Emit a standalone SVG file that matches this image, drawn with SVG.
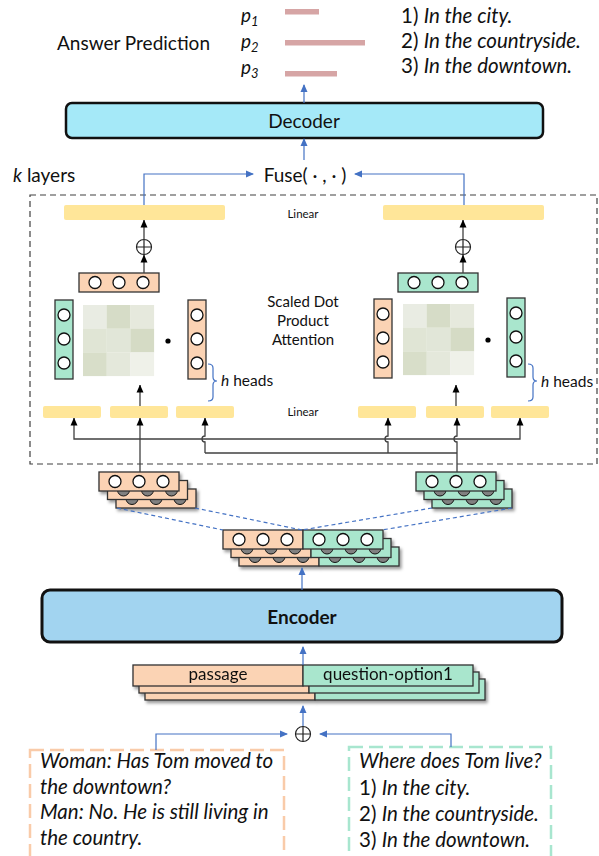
<svg xmlns="http://www.w3.org/2000/svg" width="599" height="856" viewBox="0 0 599 856">
<defs>
<style>
text{font-family:Lato,"Open Sans","DejaVu Sans",sans-serif;fill:#111}
.t19{font-size:19px}
.t20{font-size:20.5px}
.it{font-style:italic}
.or{fill:#fbd3b4;stroke:#333;stroke-width:1.3}
.gr{fill:#a9e6cd;stroke:#333;stroke-width:1.3}
.ye{fill:#ffe699}
.wc{fill:#fff;stroke:#111;stroke-width:1.3}
.gc{fill:#808080;stroke:#111;stroke-width:1}
.bl{fill:none;stroke:#4472c4;stroke-width:1.2}
.bk{fill:none;stroke:#404040;stroke-width:1.3}
.bd{fill:none;stroke:#4472c4;stroke-width:1.2;stroke-dasharray:4 3}
.op{fill:none;stroke:#222;stroke-width:1.2}
</style>
<marker id="ab" markerWidth="8" markerHeight="8" refX="7" refY="4" orient="auto" markerUnits="userSpaceOnUse"><path d="M0,0.5 L8,4 L0,7.5z" fill="#4472c4"/></marker>
<marker id="ak" markerWidth="8" markerHeight="8" refX="7.5" refY="4" orient="auto" markerUnits="userSpaceOnUse"><path d="M0,0.5 L8,4 L0,7.5z" fill="#000"/></marker>
<filter id="sh" x="-10%" y="-10%" width="130%" height="160%"><feDropShadow dx="2" dy="2.5" stdDeviation="1.5" flood-color="#000" flood-opacity="0.4"/></filter>
<g id="rowOw"><rect class="or" width="80" height="19"/><circle class="wc" cx="16" cy="9.5" r="6"/><circle class="wc" cx="40" cy="9.5" r="6"/><circle class="wc" cx="64" cy="9.5" r="6"/></g>
<g id="rowOg"><rect class="or" width="80" height="19"/><circle class="gc" cx="16" cy="9.5" r="6"/><circle class="gc" cx="40" cy="9.5" r="6"/><circle class="gc" cx="64" cy="9.5" r="6"/></g>
<g id="rowGw"><rect class="gr" width="80" height="19"/><circle class="wc" cx="16" cy="9.5" r="6"/><circle class="wc" cx="40" cy="9.5" r="6"/><circle class="wc" cx="64" cy="9.5" r="6"/></g>
<g id="rowGg"><rect class="gr" width="80" height="19"/><circle class="gc" cx="16" cy="9.5" r="6"/><circle class="gc" cx="40" cy="9.5" r="6"/><circle class="gc" cx="64" cy="9.5" r="6"/></g>
<g id="vO"><rect class="or" width="18" height="79"/><circle class="wc" cx="9" cy="15" r="6"/><circle class="wc" cx="9" cy="39" r="6"/><circle class="wc" cx="9" cy="63" r="6"/></g>
<g id="vG"><rect class="gr" width="18" height="79"/><circle class="wc" cx="9" cy="15" r="6"/><circle class="wc" cx="9" cy="39" r="6"/><circle class="wc" cx="9" cy="63" r="6"/></g>
<g id="mat">
<rect x="0" y="0" width="23.8" height="23.8" fill="#e9ece3"/><rect x="23.7" y="0" width="23.8" height="23.8" fill="#d6dcc7"/><rect x="47.4" y="0" width="23.7" height="23.8" fill="#e6e9dd"/>
<rect x="0" y="23.7" width="23.8" height="23.8" fill="#e0e5d5"/><rect x="23.7" y="23.7" width="23.8" height="23.8" fill="#e1e6d8"/><rect x="47.4" y="23.7" width="23.7" height="23.8" fill="#d5dbc5"/>
<rect x="0" y="47.4" width="23.8" height="23.7" fill="#d8dec9"/><rect x="23.7" y="47.4" width="23.8" height="23.7" fill="#e4e8db"/><rect x="47.4" y="47.4" width="23.7" height="23.7" fill="#eff1e9"/>
</g>
<g id="oplus"><circle class="op" r="7.5"/><path class="op" d="M-7.5,0H7.5M0,-7.5V7.5"/></g>
</defs>
<rect width="599" height="856" fill="#fff"/>

<g id="answer-prediction">
<text class="t19" x="57" y="50">Answer Prediction</text>
<text class="t19 it" x="241" y="22">p<tspan font-size="13" dy="4">1</tspan></text>
<text class="t19 it" x="241" y="48">p<tspan font-size="13" dy="4">2</tspan></text>
<text class="t19 it" x="241" y="74">p<tspan font-size="13" dy="4">3</tspan></text>
<rect x="285" y="9" width="34" height="5.5" fill="#d6a5a5"/>
<rect x="285" y="40" width="80" height="5.5" fill="#d6a5a5"/>
<rect x="285" y="71" width="52" height="5.5" fill="#d6a5a5"/>
<text class="t20" x="401" y="23">1) <tspan class="it">In the city.</tspan></text>
<text class="t20" x="401" y="48">2) <tspan class="it">In the countryside.</tspan></text>
<text class="t20" x="401" y="73">3) <tspan class="it">In the downtown.</tspan></text>
</g>

<g id="decoder">
<rect x="66" y="103" width="477" height="35" rx="6" fill="#a5e9f8" stroke="#111" stroke-width="2.5"/>
<text class="t19" x="304" y="128" text-anchor="middle">Decoder</text>
</g>

<g id="fuse"><text class="t19" x="305" y="182" text-anchor="middle">Fuse( · , · )</text></g>

<g id="k-layers">
<text class="t19" x="13" y="182"><tspan class="it">k</tspan> layers</text>
<rect x="30" y="195" width="567" height="269" fill="none" stroke="#404040" stroke-width="1.2" stroke-dasharray="6 4"/>
<text x="303" y="218" text-anchor="middle" font-size="11.5">Linear</text>
<text x="303" y="416" text-anchor="middle" font-size="11.5">Linear</text>
<text x="303" y="307" text-anchor="middle" font-size="15">Scaled Dot</text>
<text x="303" y="326" text-anchor="middle" font-size="15">Product</text>
<text x="303" y="345" text-anchor="middle" font-size="15">Attention</text>
</g>

<g id="left-attention">
<rect class="ye" x="64" y="205" width="161" height="15" rx="2"/>
<use href="#oplus" x="144" y="247"/>
<use href="#rowOw" x="79" y="273"/>
<use href="#vG" x="55" y="300"/>
<use href="#mat" x="83" y="305"/>
<circle cx="168" cy="341" r="2.6" fill="#000"/>
<use href="#vO" x="188" y="300"/>
<path d="M208,364 q5,0 5,4 V377 q0,4 4,4 q-4,0 -4,4 V397 q0,4 -5,4" fill="none" stroke="#4472c4" stroke-width="1.2"/>
<text x="221" y="386" font-size="15.5"><tspan class="it">h</tspan> heads</text>
<rect class="ye" x="43" y="406" width="58" height="12" rx="2"/>
<rect class="ye" x="110" y="406" width="58" height="12" rx="2"/>
<rect class="ye" x="176" y="406" width="58" height="12" rx="2"/>
</g>

<g id="right-attention">
<rect class="ye" x="383" y="205" width="161" height="15" rx="2"/>
<use href="#oplus" x="463" y="247"/>
<use href="#rowGw" x="398" y="273"/>
<use href="#vO" x="374" y="299"/>
<use href="#mat" x="403" y="304"/>
<circle cx="488" cy="340" r="2.6" fill="#000"/>
<use href="#vG" x="507" y="298"/>
<path d="M528,364 q5,0 5,4 V377 q0,4 4,4 q-4,0 -4,4 V397 q0,4 -5,4" fill="none" stroke="#4472c4" stroke-width="1.2"/>
<text x="541" y="387" font-size="15.5"><tspan class="it">h</tspan> heads</text>
<rect class="ye" x="358" y="406" width="58" height="12" rx="2"/>
<rect class="ye" x="426" y="406" width="58" height="12" rx="2"/>
<rect class="ye" x="491" y="406" width="58" height="12" rx="2"/>
</g>

<g id="left-stack" filter="url(#sh)">
<use href="#rowOg" x="116" y="489"/>
<use href="#rowOg" x="107.5" y="480.5"/>
<use href="#rowOw" x="99" y="472"/>
</g>
<g id="right-stack" filter="url(#sh)">
<use href="#rowGg" x="432" y="489"/>
<use href="#rowGg" x="424" y="480.5"/>
<use href="#rowGw" x="416" y="472"/>
</g>
<g id="center-stack" filter="url(#sh)">
<use href="#rowOg" x="239" y="547"/><use href="#rowGg" x="319" y="547"/>
<use href="#rowOg" x="231" y="538.5"/><use href="#rowGg" x="311" y="538.5"/>
<use href="#rowOw" x="223" y="530"/><use href="#rowGw" x="303" y="530"/>
</g>

<g id="encoder">
<rect x="42" y="590" width="520" height="52" rx="8" fill="#a2d4f0" stroke="#111" stroke-width="3"/>
<text x="302" y="624" text-anchor="middle" font-size="19" font-weight="bold">Encoder</text>
</g>

<g id="input-stack" filter="url(#sh)">
<rect class="or" x="145" y="679" width="170" height="21"/><rect class="gr" x="315" y="679" width="170" height="21"/>
<rect class="or" x="139" y="672" width="170" height="21"/><rect class="gr" x="309" y="672" width="170" height="21"/>
<rect class="or" x="133" y="665" width="170" height="21"/><rect class="gr" x="303" y="665" width="170" height="21"/>
<text x="218" y="680" text-anchor="middle" font-size="17">passage</text>
<text x="388" y="680" text-anchor="middle" font-size="17">question-option1</text>
</g>

<use id="input-oplus" href="#oplus" x="303" y="734"/>

<g id="passage-box">
<rect x="30" y="750" width="254" height="120" fill="none" stroke="#f9cba9" stroke-width="2.5" stroke-dasharray="14 6"/>
<text class="t20 it" x="40" y="768">Woman: Has Tom moved to</text>
<text class="t20 it" x="40" y="794">the downtown?</text>
<text class="t20 it" x="40" y="819">Man: No. He is still living in</text>
<text class="t20 it" x="40" y="845">the country.</text>
</g>

<g id="question-box">
<rect x="349" y="747" width="202" height="120" fill="none" stroke="#a8e6cf" stroke-width="2.5" stroke-dasharray="14 6"/>
<text class="t20 it" x="359" y="768">Where does Tom live?</text>
<text class="t20" x="359" y="795">1) <tspan class="it">In the city.</tspan></text>
<text class="t20" x="359" y="821">2) <tspan class="it">In the countryside.</tspan></text>
<text class="t20" x="359" y="847">3) <tspan class="it">In the downtown.</tspan></text>
</g>

<g id="connectors">
<path class="bl" d="M304,103 V85" marker-end="url(#ab)"/>
<path class="bl" d="M304,160 V139" marker-end="url(#ab)"/>
<path class="bl" d="M144,205 V174 H253" marker-end="url(#ab)"/>
<path class="bl" d="M464,205 V174 H355" marker-end="url(#ab)"/>
<path class="bk" d="M144,273 V255" marker-end="url(#ak)"/>
<path class="bk" d="M144,239.5 V220" marker-end="url(#ak)"/>
<path class="bk" d="M463,273 V255" marker-end="url(#ak)"/>
<path class="bk" d="M463,239.5 V220" marker-end="url(#ak)"/>
<path class="bk" d="M140,406 V385" stroke-width="1" marker-end="url(#ak)"/>
<path class="bk" d="M456,406 V385" stroke-width="1" marker-end="url(#ak)"/>
<path class="bk" d="M140,472 V418" marker-end="url(#ak)"/>
<path class="bk" d="M140,439 H74 V418" marker-end="url(#ak)"/>
<path class="bk" d="M140,439 H520 V418" marker-end="url(#ak)"/>
<path class="bk" d="M205,453 H457"/>
<path class="bk" d="M205,453 V442 a3,3 0 0 1 0,-6 V418" marker-end="url(#ak)"/>
<path class="bk" d="M388,453 V442 a3,3 0 0 1 0,-6 V418" marker-end="url(#ak)"/>
<path class="bk" d="M457,472 V442 a3,3 0 0 1 0,-6 V418" marker-end="url(#ak)"/>
<path class="bd" d="M117,508 L223,530 M195,508 L302,530 M432,508 L302,530 M512,508 L382,530"/>
<path class="bl" d="M302,590 V568" marker-end="url(#ab)"/>
<path class="bl" d="M303,665 V647" marker-end="url(#ab)"/>
<path class="bl" d="M303,726 V706" marker-end="url(#ab)"/>
<path class="bl" d="M156,750 V734 H287" marker-end="url(#ab)"/>
<path class="bl" d="M451,747 V734 H320" marker-end="url(#ab)"/>
</g>
</svg>
